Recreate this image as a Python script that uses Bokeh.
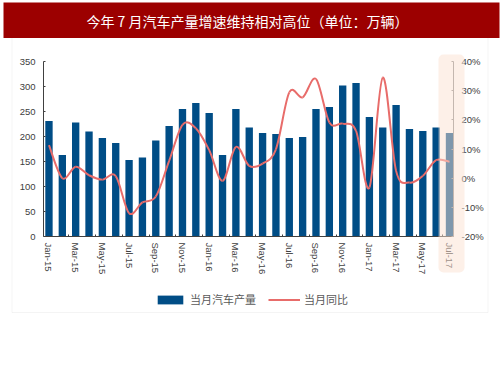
from bokeh.plotting import figure
from bokeh.models import (Range1d, LinearAxis, FixedTicker, BoxAnnotation, Label,
                          Legend, LegendItem, ColumnDataSource)
from bokeh.embed import file_html
from bokeh.resources import INLINE

months = ["Jan-15", "Feb-15", "Mar-15", "Apr-15", "May-15", "Jun-15", "Jul-15", "Aug-15",
          "Sep-15", "Oct-15", "Nov-15", "Dec-15", "Jan-16", "Feb-16", "Mar-16", "Apr-16",
          "May-16", "Jun-16", "Jul-16", "Aug-16", "Sep-16", "Oct-16", "Nov-16", "Dec-16",
          "Jan-17", "Feb-17", "Mar-17", "Apr-17", "May-17", "Jun-17", "Jul-17"]
production = [231, 163, 228, 210, 197, 187, 153, 158, 192, 221, 255, 267, 247, 163, 255, 218,
              207, 205, 197, 199, 255, 259, 302, 307, 239, 218, 263, 215, 211, 218, 207]
yoy = [11.3, 0.0, 3.9, 1.0, -0.5, 0.7, -12.0, -8.3, -6.3, 5.9, 18.3, 17.1, 9.6, -0.9, 10.7, 4.2,
       5.0, 9.9, 29.4, 27.7, 34.0, 19.1, 18.7, 16.2, -3.2, 34.5, 2.5, -1.5, 0.8, 6.2, 5.6]
left_ticks = [0, 50, 100, 150, 200, 250, 300, 350]
right_ticks = [-20, -10, 0, 10, 20, 30, 40]
title_text = "今年 7 月汽车产量增速维持相对高位（单位：万辆）"
legend_labels = ["当月汽车产量", "当月同比"]

BAR = "#004D86"
LINE = "#E86C6A"
W, H = 500, 330
FONT = "Liberation Sans"

# ---------------- chart ----------------
chart = figure(width=W, height=H, output_backend="svg", toolbar_location=None,
               x_range=Range1d(-0.41, 30.3), y_range=Range1d(0, 350),
               min_border_left=43, min_border_right=47, min_border_top=61,
               min_border_bottom=94, x_axis_location=None, y_axis_location=None)
chart.outline_line_color = None
chart.grid.visible = False
chart.background_fill_color = "white"
chart.border_fill_color = "white"
chart.extra_y_ranges = {"pct": Range1d(-20, 40)}

idx = list(range(len(months)))
bars = chart.vbar(x=idx, top=production, bottom=0, width=0.55, fill_color=BAR, line_color=None)

# smooth curve through the points (Catmull-Rom style control points)
n = len(yoy)
x0, y0, x1, y1, cx0, cy0, cx1, cy1 = [], [], [], [], [], [], [], []
for i in range(n - 1):
    ip, inn, in2 = max(i - 1, 0), i + 1, min(i + 2, n - 1)
    x0.append(idx[i]); y0.append(yoy[i]); x1.append(idx[inn]); y1.append(yoy[inn])
    cx0.append(idx[i] + (idx[inn] - idx[ip]) / 6.0)
    cy0.append(yoy[i] + (yoy[inn] - yoy[ip]) / 6.0)
    cx1.append(idx[inn] - (idx[in2] - idx[i]) / 6.0)
    cy1.append(yoy[inn] - (yoy[in2] - yoy[i]) / 6.0)
src = ColumnDataSource(dict(x0=x0, y0=y0, x1=x1, y1=y1, cx0=cx0, cy0=cy0, cx1=cx1, cy1=cy1))
curve = chart.bezier(x0="x0", y0="y0", x1="x1", y1="y1", cx0="cx0", cy0="cy0",
                     cx1="cx1", cy1="cy1", source=src, line_color=LINE, line_width=2,
                     y_range_name="pct")

xaxis = LinearAxis(ticker=FixedTicker(ticks=list(range(0, 31, 2)),
                                      minor_ticks=[i + 0.5 for i in range(1, 30, 2)]),
                   major_label_overrides={i: months[i] for i in range(0, 31, 2)},
                   major_label_orientation="vertical",
                   major_tick_in=0, major_tick_out=0, minor_tick_in=2, minor_tick_out=0,
                   major_label_standoff=6, axis_line_color="#404040",
                   minor_tick_line_color="#404040",
                   major_label_text_color="#404040", major_label_text_font_size="9.5px",
                   major_label_text_font=FONT)
chart.add_layout(xaxis, "below")

yaxis = LinearAxis(ticker=FixedTicker(ticks=left_ticks), major_tick_in=2, major_tick_out=0,
                   minor_tick_in=0, minor_tick_out=0, major_label_standoff=8,
                   axis_line_color="#404040", major_tick_line_color="#404040",
                   major_label_text_color="#404040", major_label_text_font_size="9.5px",
                   major_label_text_font=FONT)
chart.add_layout(yaxis, "left")

raxis = LinearAxis(y_range_name="pct", ticker=FixedTicker(ticks=right_ticks),
                   major_label_overrides={t: f"{t}%" for t in right_ticks},
                   major_tick_in=2, major_tick_out=0, minor_tick_in=0, minor_tick_out=0,
                   major_label_standoff=8, axis_line_color="#8C8C8C",
                   major_tick_line_color="#8C8C8C",
                   major_label_text_color="#404040", major_label_text_font_size="9.5px",
                   major_label_text_font=FONT)
chart.add_layout(raxis, "right")

# ---------------- overlay: page decorations, y measured downward ----------------
over = figure(width=W, height=H, output_backend="svg", toolbar_location=None,
              x_range=Range1d(0, W), y_range=Range1d(H, 0),
              min_border=0, x_axis_location=None, y_axis_location=None)
over.outline_line_color = None
over.grid.visible = False
over.background_fill_alpha = 0
over.border_fill_alpha = 0
over.styles = {"position": "absolute", "top": "0px", "left": "0px", "z-index": "2"}

def box(l, r, t, b, **kw):
    return BoxAnnotation(left=l, right=r, top=t, bottom=b, **kw)

over.add_layout(box(11.5, 487.5, 37, 312, fill_alpha=0, line_color="#D9D9D9", line_width=1))
over.add_layout(box(3, 499, 2, 37.5, fill_color="#9C0000", fill_alpha=1, line_color=None))
over.add_layout(Label(text=title_text, x=247, y=20, text_align="center",
                      text_baseline="middle", text_color="white",
                      text_font="Noto Sans CJK SC", text_font_size="14px"))
over.add_layout(box(438, 464, 54, 272, fill_color="#FBE1D1", fill_alpha=0.5,
                    line_color=None, border_radius=5))

# hidden copies of the two series, used only as the legend's style samples
bar_key = over.vbar(x=idx, top=production, width=0.55, fill_color=BAR, line_color=None,
                    visible=False)
line_key = over.line(x=idx, y=yoy, line_color=LINE, line_width=2, visible=False)
legend = Legend(items=[LegendItem(label=legend_labels[0], renderers=[bar_key]),
                       LegendItem(label=legend_labels[1], renderers=[line_key])],
                location=(154, 23), orientation="horizontal",
                glyph_width=32, glyph_height=11, label_height=12, label_standoff=4,
                spacing=12, padding=0, margin=0, border_line_color=None,
                background_fill_alpha=0, label_text_font_size="11px",
                label_text_font="Noto Sans CJK SC", label_text_color="#595959")
over.add_layout(legend)

p = [chart, over]
open("out.html", "w").write(file_html(p, INLINE))
